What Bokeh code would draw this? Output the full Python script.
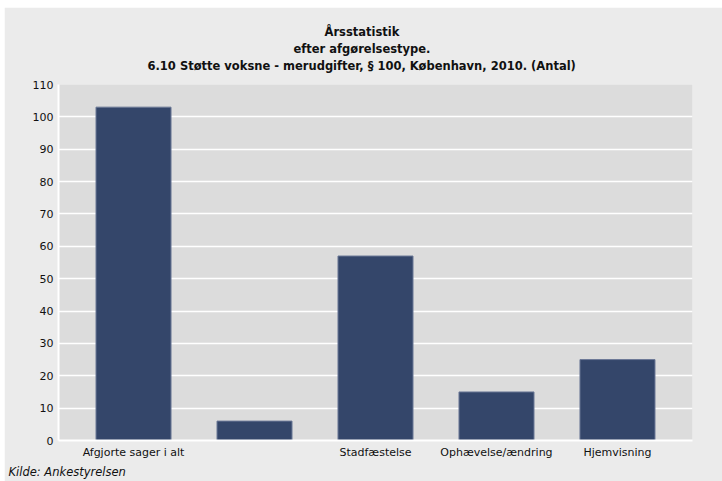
from bokeh.plotting import figure
from bokeh.models import Title, Range1d, FixedTicker
from bokeh.embed import file_html
from bokeh.resources import INLINE

categories = ["Afgjorte sager i alt", "", "Stadfæstelse", "Ophævelse/ændring", "Hjemvisning"]
values = [103, 6, 57, 15, 25]
y_ticks = list(range(0, 111, 10))
title_lines = ["Årsstatistik", "efter afgørelsestype.",
               "6.10 Støtte voksne - merudgifter, § 100, København, 2010. (Antal)"]
source_note = "Kilde: Ankestyrelsen"

xs = list(range(len(categories)))

p = figure(width=718, height=474, output_backend="svg", toolbar_location=None,
           x_range=Range1d(-0.62, len(categories) - 1 + 0.62), y_range=Range1d(0, 110),
           min_border_left=54, min_border_right=30, min_border_top=77, min_border_bottom=41)
p.margin = (7, 0, 0, 4)
p.background_fill_color = "#dcdcdc"
p.border_fill_color = "#ebebeb"
p.outline_line_color = None

p.vbar(x=xs, top=values, width=0.62, fill_color="#34466a", line_color="#6b7896", line_width=1)

font = "DejaVu Sans"
for ax in (p.xaxis[0], p.yaxis[0]):
    ax.axis_line_color = "white"
    ax.axis_line_width = 2
    ax.major_tick_line_color = None
    ax.minor_tick_line_color = None
    ax.major_tick_out = 0
    ax.major_tick_in = 0
    ax.major_label_text_font = font
    ax.major_label_text_font_size = "11px"
    ax.major_label_text_color = "#111111"

p.yaxis.ticker = FixedTicker(ticks=y_ticks)
p.yaxis.major_label_standoff = 5
p.xaxis.ticker = FixedTicker(ticks=xs)
p.xaxis.major_label_overrides = {i: c for i, c in zip(xs, categories)}
p.xaxis.major_label_standoff = 5

p.xgrid.grid_line_color = None
p.ygrid.grid_line_color = "white"
p.ygrid.grid_line_width = 1.5

# small invisible spacer between the plot area and the title block
p.add_layout(Title(text=" ", text_font_size="1px", standoff=9), "above")

# titles are left aligned with offsets so that they centre on the whole picture
title_offsets = [266, 235, 89]
title_standoffs = [0, 2, 0]
for line, off, so in reversed(list(zip(title_lines, title_offsets, title_standoffs))):
    p.add_layout(Title(text=line, align="left", text_font=font, text_font_size="11.5px",
                       text_font_style="bold", text_color="#111111", offset=off,
                       standoff=so), "above")

note = Title(text=source_note, align="left", text_font=font, text_font_size="11.5px",
             text_font_style="italic", text_color="#111111", offset=-50, standoff=2)
p.add_layout(note, "below")

open("out.html", "w").write(file_html(p, INLINE))
